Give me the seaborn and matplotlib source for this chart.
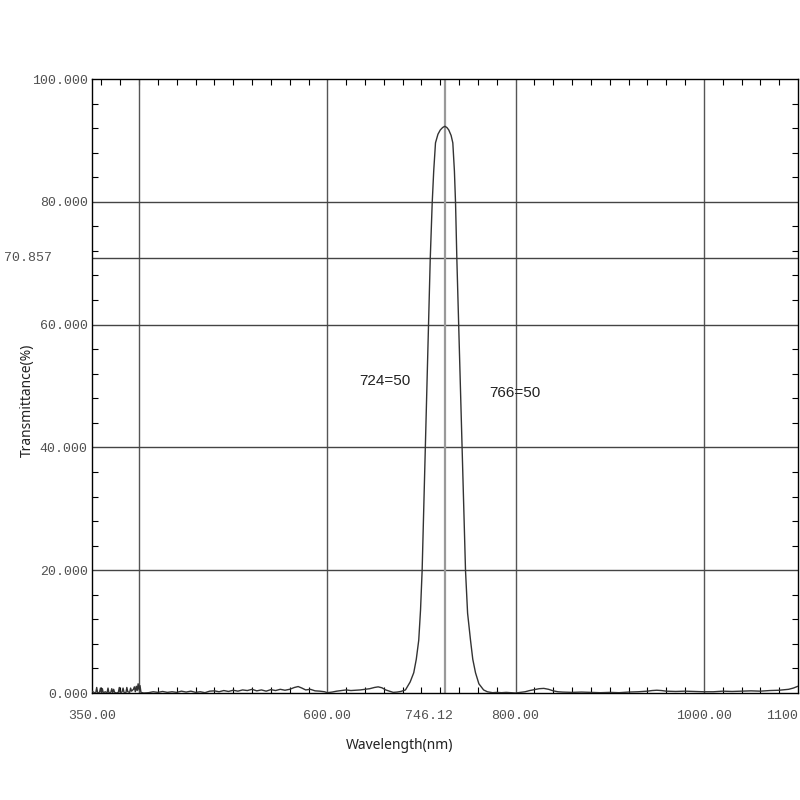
import matplotlib
matplotlib.use('Agg')
import matplotlib.pyplot as plt
import seaborn as sns
import pandas as pd
from matplotlib.ticker import MultipleLocator

# 透过率曲线
wavelength = [
    350, 352, 354, 355, 356, 358, 359, 360, 361, 362, 364, 366, 367, 368, 370,
    371, 372, 373, 374, 376, 378, 379, 380, 382, 383, 384, 386, 387, 388, 390,
    391, 392, 394, 395, 396, 397, 398, 399, 400, 401, 402,
    405, 410, 415, 420, 425, 430, 435, 440, 445, 450, 455, 460, 465, 470, 475,
    480, 485, 490, 495, 500, 505, 510, 515, 520, 525, 530, 535, 540, 545, 550,
    555, 560, 565, 569, 573, 577, 582, 587, 592, 597, 600, 605, 610, 615, 620,
    625, 630, 635, 640, 645, 650, 654, 658, 662, 666, 670, 674, 678,
    683, 688, 691.8, 694.5, 697.1, 699, 700.7, 702.4, 704.1, 705.8, 707.5,
    709.3, 711.4, 713, 714.9, 717.5, 720, 722.5, 724.8, 727, 729, 731.5, 733.3,
    735, 736.2, 737.6, 739.4, 741.2, 743, 744.8, 746.8, 749, 752.1, 754.5,
    757.4, 761, 766, 770, 775.5,
    780, 785, 790, 795, 800, 805, 810, 815, 820, 825, 830, 835, 840, 845, 850,
    860, 870, 880, 890, 900, 910, 920, 930, 940, 945, 950, 955, 960, 970, 980,
    990, 1000, 1010, 1020, 1030, 1040, 1050, 1060, 1070, 1080, 1090, 1095, 1100,
]
transmittance = [
    0.3, 0.1, 0.0, 0.9, 0.0, 0.1, 0.8, 0.0, 0.7, 0.0, 0.2, 0.0, 0.8, 0.0, 0.1,
    0.7, 0.0, 0.6, 0.1, 0.0, 0.1, 0.9, 0.0, 0.2, 0.8, 0.1, 0.0, 0.9, 0.2, 0.1,
    0.8, 0.3, 0.6, 1.0, 0.2, 1.1, 0.4, 1.5, 0.5, 1.2, 0.1,
    0.0, 0.05, 0.2, 0.1, 0.25, 0.1, 0.2, 0.1, 0.3, 0.15, 0.3, 0.1, 0.2, 0.05, 0.3,
    0.35, 0.2, 0.4, 0.25, 0.45, 0.3, 0.5, 0.4, 0.6, 0.35, 0.5, 0.3, 0.55, 0.4, 0.6,
    0.45, 0.6, 0.9, 1.05, 0.8, 0.5, 0.6, 0.35, 0.3, 0.2, 0.05, 0.15, 0.3, 0.4, 0.5,
    0.4, 0.45, 0.5, 0.6, 0.7, 0.9, 1.0, 0.85, 0.5, 0.3, 0.1, 0.15, 0.25,
    0.5, 1.8, 3.3, 5.5, 8.6, 13.5, 19.9, 30.0, 40.0, 50.0, 60.0,
    70.6, 79.8, 85.0, 89.6, 91.0, 91.7, 92.1, 92.3, 92.1, 91.7, 90.8, 89.6,
    85.0, 79.8, 70.6, 60.7, 50.8, 41.0, 31.0, 19.9, 13.0, 8.6, 5.5,
    3.3, 1.5, 0.5, 0.2, 0.05,
    0.1, 0.05, 0.1, 0.05, 0.0, 0.1, 0.2, 0.4, 0.55, 0.7, 0.75, 0.6, 0.35, 0.2, 0.15,
    0.1, 0.15, 0.1, 0.05, 0.1, 0.05, 0.15, 0.2, 0.3, 0.4, 0.45, 0.4, 0.3, 0.25, 0.3,
    0.25, 0.2, 0.2, 0.3, 0.25, 0.3, 0.35, 0.3, 0.4, 0.45, 0.6, 0.8, 1.1,
]

x_tick_values = [350, 600, 708.5, 800, 1000, 1100]
x_tick_labels = ['350.00', '600.00', '746.12', '800.00', '1000.00', '1100']
y_tick_values = [0, 20, 40, 60, 80, 100]
y_tick_labels = ['0.000', '20.000', '40.000', '60.000', '80.000', '100.000']

grid_x = [400, 600, 800, 1000]
grid_y = [20, 40, 60, 80]
center_x = 725.5
level_y = 70.857
level_label = '70.857'

notes = ['724=50', '766=50']
note_x = [660.6, 799]
note_y = [50.8, 48.9]

sns.set_style('white')
plt.rcParams['font.family'] = ['Noto Sans', 'DejaVu Sans']

df = pd.DataFrame({'wl': wavelength, 't': transmittance})

fig = plt.figure(figsize=(8, 8), dpi=100)
ax = fig.add_axes([0.115, 0.13375, 0.8825, 0.7675])

for gx in grid_x:
    ax.axvline(gx, color='#555555', lw=1, zorder=1)
for gy in grid_y:
    ax.axhline(gy, color='#444444', lw=1, zorder=1)
ax.axhline(level_y, color='#444444', lw=1, zorder=1)
ax.axvline(center_x, color='#999999', lw=1.6, zorder=1)

sns.lineplot(data=df, x='wl', y='t', ax=ax, color='#333333', lw=1,
             estimator=None, zorder=3)

ax.set_xlim(350, 1100)
ax.set_ylim(0, 100)

tick_font = {'family': 'Liberation Mono', 'size': 9.5, 'color': '#505050'}
ax.set_xticks(x_tick_values, x_tick_labels, **tick_font)
ax.set_yticks(y_tick_values, y_tick_labels, **tick_font)
# 最右边的标签贴着图边, 右对齐以免被裁掉
ax.get_xticklabels()[-1].set_horizontalalignment('right')
ax.xaxis.set_minor_locator(MultipleLocator(20))
ax.yaxis.set_minor_locator(MultipleLocator(4))
ax.tick_params(axis='x', which='major', length=0, pad=12)
ax.tick_params(axis='y', which='major', length=0, pad=3)
ax.tick_params(which='minor', direction='in', length=4, width=0.8,
               color='black', top=True, right=True, bottom=True, left=True)

for side in ['left', 'right', 'top', 'bottom']:
    ax.spines[side].set_color('black')
    ax.spines[side].set_linewidth(1)

ax.annotate(level_label, xy=(0, level_y), xycoords=('axes fraction', 'data'),
            xytext=(-40, 0), textcoords='offset pixels', ha='right', va='center',
            annotation_clip=False, **tick_font)

for txt, nx, ny in zip(notes, note_x, note_y):
    ax.text(nx, ny, txt, ha='center', va='center', fontsize=11,
            family='Liberation Sans', color='#222222')

ax.set_xlabel('Wavelength(nm)', fontsize=10, color='#222222')
ax.set_ylabel('Transmittance(%)', fontsize=10, color='#222222')
ax.xaxis.set_label_coords(0.436, -0.073)
ax.yaxis.set_label_coords(-0.081, 0.476)

fig.savefig('out.png', dpi=100)
